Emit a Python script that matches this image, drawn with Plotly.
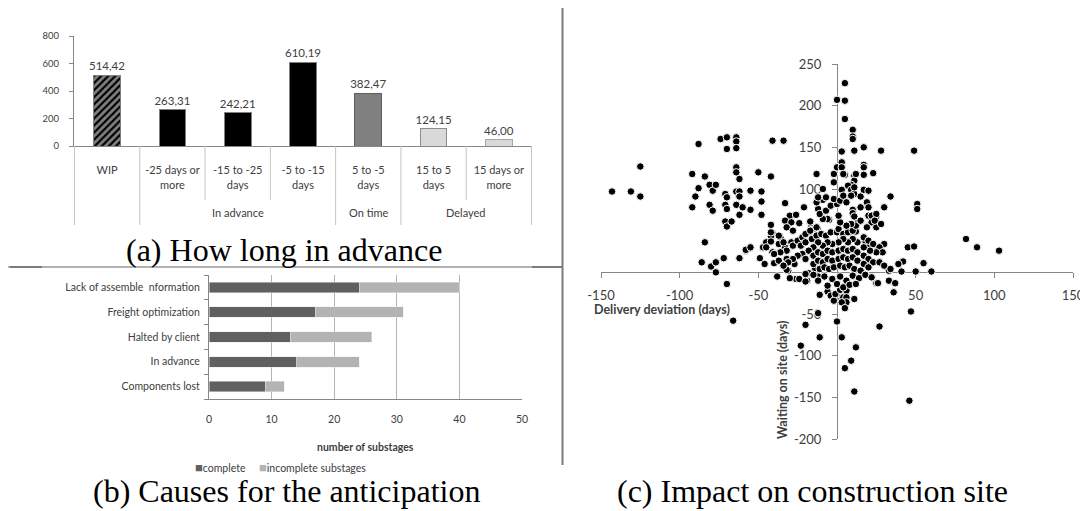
import plotly.graph_objects as go

# The page body keeps its default 8px margin, so the figure is drawn 8px in from the
# window's top-left corner; the figure is sized to fill the rest of the 1088x511 window.
OFF = 8
W, H = 1088 - OFF, 511 - OFF

# ---------------- data ----------------
# (a) How long in advance
adv_categories = ["WIP", "-25 days or<br>more", "-15 to -25<br>days", "-5 to -15<br>days",
                  "5 to -5<br>days", "15 to 5<br>days", "15 days or<br>more"]
adv_values = [514.42, 263.31, 242.21, 610.19, 382.47, 124.15, 46.00]
adv_groups = ["In advance", "On time", "Delayed"]
adv_group_spans = [(1, 3), (4, 4), (5, 6)]
adv_yticks = [0, 200, 400, 600, 800]

# (b) Causes for the anticipation
cause_categories = ["Lack of assemble\u00a0 nformation", "Freight optimization",
                    "Halted by client", "In advance", "Components lost"]
complete = [24, 17, 13, 14, 9]
incomplete = [16, 14, 13, 10, 3]
cause_xticks = [0, 10, 20, 30, 40, 50]

# (c) Impact on construction site
scatter_xticks = [-150, -100, -50, 0, 50, 100, 150]
scatter_yticks = [-200, -150, -100, -50, 0, 50, 100, 150, 200, 250]
deviation = [
    -143, -131, -125, -125, -92, -92, -90, -88, -88, -84, -84, -81, -81, -79, -79, -77, -74, -70, -70, -71,
    -70, -71, -70, -71, -70, -67, -64, -64, -64, -64, -64, -62, -64, -62, -62, -64, -62, -60, -55, -55,
    -50, -48, -48, -48, -42, -41, -34, -33, -42, -41, -42, -47, -55, -58,
    -13, -21, -17, -12, -12, -9, -9, -7, -5, -2, -2, 0, 0, 5, 5, 5, 10, 10, 10, 3,
    17, 11, 28, 49, 3, 3, 5, 11, 17, 17, 17, 23, 11, 9, 7, 3, 9, 11, 15, 17,
    20, 34, 30, 19, 20, 15, 10, 10, 11, 20, 23, 25, 22, 25, 13, 12, 51, 51, 82, 89,
    103, 45, 49, 30, 26,
    -86, -80, -77, -77, -72, -70, -62, -58, -55, -49, -47, -45, -46, -41, -40, -38, -37, -37, -36, -33,
    -32, -31, -29, -27, -26, -24, -19, -18, -14, -12, -11,
    -66, -32, -30, -20, -6, -4, -2, -1, 2, 4, 6, 6, 6, 3, 5, 11, -12, -20, -23, -11,
    0, 3, 12, 9, 5, 11, 27, 47, 46, 25, 33, 37, 36, 41, 50, 60, 55, 42, 39,
    27, 33, 26, 20, 18, 19,
    -30, -26, -33, -29, -24, -32, -28, -42, -37, -42, -45, -34, -32, -36, -40, -28, -25, -22, -20, -17,
    -13, -23, -20, -16, -13, -10, -7, -4, 0, 1, 4, 7, 10, 12, 15, 9, 6, 2, 1, -6,
    -9, -11, -7, -4, 0, -2, 2, 4, 6, 9, 11, 12, 4, -13, -12, 19, 22, 25, 24, 28,
    17, 20, 23, 27, 29, 25, 21, 17, 13, 10, 7, 4, 1, -3, -6, -9, -12, -15, -18, -22,
    -25, -28, -31, -34, -20, -15, -12, -9, -6, -3, 1, 4, 7, 10, 13, 17, 20, 23, 27, 30,
    34, -15, -12, -9, -6, -3, 1, 4, 7, 10, 13, 17, 20, -11, -8, -5, -2, 2, 5, 8,
    11, 15,
    -15, -8, -3, 2, 6, 10, 14, 18, 22, -20, -12, 0, 4, 8, -6, 12,
]
waiting = [
    97, 97, 127, 91, 78, 118, 91, 154, 101, 115, 36, 81, 105, 98, 74, 105, 160, 162, 148, 94,
    90, 81, 76, 61, 55, 61, 162, 157, 149, 126, 120, 112, 97, 97, 91, 81, 69, 78, 98, 75,
    120, 97, 85, 69, 115, 158, 158, 83, 57, 47, 43, 29, 29, 26,
    118, 78, 61, 76, 86, 87, 100, 90, 63, 108, 118, 126, 207, 227, 206, 184, 171, 163, 160, 145,
    150, 146, 146, 146, 132, 126, 117, 116, 129, 126, 117, 119, 110, 105, 104, 99, 99, 94, 91, 99,
    98, 91, 78, 84, 78, 78, 75, 71, 67, 68, 68, 67, 60, 54, 59, 49, 82, 76, 40, 30,
    26, 30, 31, 34, 27,
    12, 7, 12, 0, 17, -14, 17, 27, 30, 17, 30, 36, 10, 24, 11, -5, 34, 14, 42, 30,
    16, 2, 36, 10, -8, -8, -10, -1, 5, -5, -27,
    -58, 3, -7, -11, -23, -28, -34, -26, -21, -30, -22, -30, -36, -36, -43, -32, -49, -63, -88, -78,
    -59, -78, -90, -106, -115, -143, -65, -47, -154, -13, -10, -13, -24, 1, 1, 1, 11, 13, 10,
    12, 2, -13, 32, 38, 14,
    68, 69, 62, 60, 59, 54, 50, 48, 44, 37, 30, 36, 26, 24, 22, 32, 38, 42, 46, 50,
    54, 32, 36, 40, 44, 46, 44, 48, 48, 52, 46, 48, 50, 56, 62, 58, 56, 60, 68, 64,
    64, 70, 74, 80, 82, 88, 86, 92, 84, 92, 102, 118, 118, 84, 90, 54, 68, 70, 62, 58,
    42, 38, 34, 30, 24, 24, 26, 30, 36, 40, 36, 40, 36, 34, 36, 32, 36, 30, 26, 22,
    20, 16, 12, 8, 16, 20, 24, 22, 26, 24, 26, 28, 26, 28, 24, 20, 16, 12, 12, 8,
    4, 10, 14, 12, 16, 14, 16, 18, 16, 18, 14, 10, 6, 4, 6, 4, 6, 8, 6, 8,
    4, 2,
    -3, -5, -8, -5, -10, -4, -7, -3, -6, -2, -10, -14, -18, -15, -16, -14,
]

# ---------------- helpers for layout (window pixel -> paper) ----------------
def px(x):
    return (x - OFF) / W


def py(y):
    return 1 - (y - OFF) / H


AX = "#868686"
TXT = "#404040"
SEP = "#c4c4c4"
FONT = "Lato, 'Noto Sans', sans-serif"
SERIF = "'Liberation Serif', 'Times New Roman', serif"

fig = go.Figure()

# ---------------- (a) vertical bars ----------------
bar_colors = ["#000000", "#000000", "#000000", "#000000", "#808080", "#d9d9d9", "#d9d9d9"]
line_colors = ["#7f7f7f", "#7f7f7f", "#7f7f7f", "#7f7f7f", "#5f5f5f", "#8c8c8c", "#a6a6a6"]
patterns = ["/", "", "", "", "", "", ""]
fig.add_trace(go.Bar(
    x=adv_categories, y=adv_values, xaxis="x", yaxis="y", width=0.41,
    marker=dict(color=bar_colors, line=dict(color=line_colors, width=1),
                pattern=dict(shape=patterns, bgcolor="white", fgcolor="#000000",
                             size=5, solidity=0.55)),
    texttemplate="%{y:.2f}", textposition="outside", cliponaxis=False, constraintext="none",
    textfont=dict(size=11.5, color=TXT, family=FONT), showlegend=False,
))

# ---------------- (b) stacked horizontal bars ----------------
fig.add_trace(go.Bar(
    y=cause_categories, x=complete, orientation="h", xaxis="x2", yaxis="y2", width=0.42,
    marker=dict(color="#606060"), name="complete", showlegend=False,
))
fig.add_trace(go.Bar(
    y=cause_categories, x=incomplete, orientation="h", xaxis="x2", yaxis="y2", width=0.42,
    marker=dict(color="#b3b3b3"), name="incomplete substages", showlegend=False,
))

# ---------------- (c) scatter ----------------
fig.add_trace(go.Scatter(
    x=deviation, y=waiting, mode="markers", xaxis="x3", yaxis="y3",
    marker=dict(size=7.5, color="#000000", line=dict(color="#ffffff", width=1)),
    showlegend=False, cliponaxis=False,
))

x3_dom = [px(601), px(1073)]
y3_dom = [py(439), py(64)]
x3_range = [-150, 150]
y3_range = [-200, 250]
x3_pos = y3_dom[0] + (0 - y3_range[0]) / (y3_range[1] - y3_range[0]) * (y3_dom[1] - y3_dom[0])
y3_pos = x3_dom[0] + (0 - x3_range[0]) / (x3_range[1] - x3_range[0]) * (x3_dom[1] - x3_dom[0])

# ---------------- shapes ----------------
shapes = []
# category separators for (a)
for pos, long in [(-0.5, True), (0.5, True), (1.5, False), (2.5, False), (3.5, True),
                  (4.5, True), (5.5, False), (6.5, True)]:
    shapes.append(dict(type="line", xref="x", yref="paper", x0=pos, x1=pos,
                       y0=py(146), y1=py(225 if long else 200),
                       line=dict(color=SEP, width=1)))
# frame lines between panels
shapes.append(dict(type="line", xref="paper", yref="paper", x0=px(OFF), x1=px(562),
                   y0=py(267), y1=py(267), line=dict(color="#9a9a9a", width=1.5)))
shapes.append(dict(type="line", xref="paper", yref="paper", x0=px(10), x1=px(42),
                   y0=py(267), y1=py(267), line=dict(color="#6a6a6a", width=1.5)))
shapes.append(dict(type="line", xref="paper", yref="paper", x0=px(532), x1=px(562),
                   y0=py(267), y1=py(267), line=dict(color="#6a6a6a", width=1.5)))
shapes.append(dict(type="line", xref="paper", yref="paper", x0=px(562.5), x1=px(562.5),
                   y0=py(OFF), y1=py(465), line=dict(color="#7a7a7a", width=2)))

# ---------------- annotations ----------------
def note(text, x, y, size, color=TXT, family=FONT, xref="paper", angle=0):
    return dict(text=text, x=x, y=y, xref=xref, yref="paper", xanchor="center",
                yanchor="middle", showarrow=False, textangle=angle,
                font=dict(size=size, color=color, family=family))


ann = []
for name, (a, b) in zip(adv_groups, adv_group_spans):
    ann.append(note(name, (a + b) / 2, py(212), 11, xref="x"))
ann.append(note("(a) How long in advance", px(284), py(250), 32, "#000000", SERIF))
ann.append(note("(b) Causes for the anticipation", px(286), py(491), 32, "#000000", SERIF))
ann.append(note("(c) Impact on construction site", px(812), py(491), 32, "#000000", SERIF))
ann.append(note("<b>number of substages</b>", px(365), py(447), 10.5))
ann.append(note("<span style='color:#606060;font-size:13px'>■</span>complete&nbsp;&nbsp;&nbsp;&nbsp;&nbsp;"
                "<span style='color:#b3b3b3;font-size:13px'>■</span>incomplete substages",
                px(280), py(467), 10.5))
ann.append(note("<b>Delivery deviation (days)</b>", px(662), py(309), 12.5))
ann.append(note("<b>Waiting on site (days)</b>", px(782), py(380), 12.5, angle=-90))

fig.update_layout(
    width=W, height=H, margin=dict(l=0, r=0, t=0, b=0, pad=0), autosize=False,
    paper_bgcolor="white", plot_bgcolor="rgba(0,0,0,0)",
    barmode="stack", separators=", ",
    font=dict(family=FONT, color=TXT),
    shapes=shapes, annotations=ann,
    xaxis=dict(domain=[px(74), px(532)], anchor="y", type="category", automargin=False,
               showline=True, linecolor=AX, linewidth=1, ticks="", showgrid=False,
               tickfont=dict(size=11, color=TXT), ticklabelstandoff=14),
    yaxis=dict(domain=[py(146), py(36)], anchor="x", range=[0, 800], tickvals=adv_yticks,
               automargin=False,
               showline=True, linecolor=AX, linewidth=1, ticks="outside", ticklen=4,
               tickcolor=AX, showgrid=False, zeroline=False,
               tickfont=dict(size=9.5, color=TXT), ticklabelstandoff=8),
    xaxis2=dict(domain=[px(209), px(522)], anchor="y2", range=[0, 50], tickvals=cause_xticks,
                automargin=False,
                showline=True, linecolor=AX, showgrid=True, gridcolor="#b4b4b4", gridwidth=1,
                zeroline=False, ticks="", tickfont=dict(size=10.5, color=TXT),
                ticklabelstandoff=10),
    yaxis2=dict(domain=[py(399), py(275)], anchor="x2", type="category", automargin=False,
                categoryorder="array", categoryarray=cause_categories[::-1],
                showline=True, linecolor=AX, ticks="outside", ticklen=4, tickcolor=AX,
                tickson="boundaries", showgrid=False, tickfont=dict(size=10.5, color=TXT),
                ticklabelstandoff=6),
    xaxis3=dict(domain=x3_dom, anchor="free", position=x3_pos, range=x3_range,
                tickvals=scatter_xticks, ticktext=[str(v) for v in scatter_xticks],
                automargin=False,
                showline=True, linecolor=AX, linewidth=1, ticks="outside", ticklen=5,
                tickcolor=AX, showgrid=False, zeroline=False, layer="below traces",
                tickfont=dict(size=13, color=TXT), ticklabelstandoff=6),
    yaxis3=dict(domain=y3_dom, anchor="free", position=y3_pos, range=y3_range,
                tickvals=scatter_yticks, ticktext=[str(v) for v in scatter_yticks],
                automargin=False,
                showline=True, linecolor=AX, linewidth=1, ticks="outside", ticklen=5,
                tickcolor=AX, showgrid=False, zeroline=False, layer="below traces",
                tickfont=dict(size=13, color=TXT), ticklabelstandoff=8),
)

fig.write_html("out.html")
